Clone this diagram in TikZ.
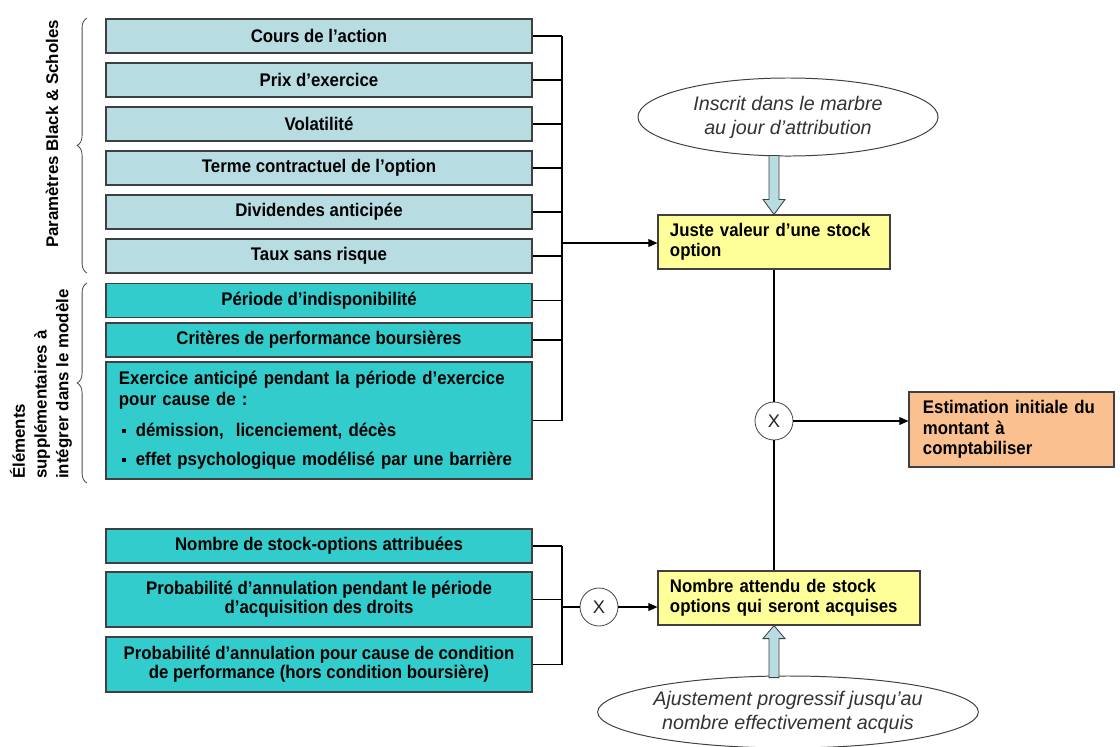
\documentclass[tikz,border=0pt]{standalone}
\usepackage{fontspec}
\setmainfont{Liberation Sans}
\newfontfamily\narrowsans[FakeStretch=0.92]{Liberation Sans}
\usetikzlibrary{arrows.meta, calc, shapes.geometric, decorations.pathreplacing}
\definecolor{bsblue}{RGB}{183,221,226}
\definecolor{suppteal}{RGB}{51,204,204}
\definecolor{jaune}{RGB}{255,255,153}
\definecolor{orangeclair}{RGB}{250,192,143}
\definecolor{bordure}{RGB}{64,64,64}
\newcommand{\bulsq}{\hspace*{2pt}\rule[0.35ex]{3pt}{3pt}\hspace{7pt}}
\tikzset{
    pbox/.style = {rectangle, draw=bordure, line width=1pt, fill=bsblue, minimum width=10.65cm, minimum height=0.85cm, inner sep=0pt, align=center, font=\narrowsans\bfseries\fontsize{13}{13.5}\selectfont},
    sbox/.style = {pbox, fill=suppteal},
    ybox/.style = {rectangle, draw=bordure, line width=0.8pt, fill=jaune, minimum height=1.35cm, inner xsep=0.3cm, inner ysep=0pt, align=left, font=\narrowsans\bfseries\fontsize{13}{14.5}\selectfont},
    mult/.style = {circle, draw=gray!60!black, line width=0.6pt, fill=white, minimum size=0.95cm, inner sep=0pt, font=\fontsize{13}{13}\selectfont, text=gray!30!black},
    ell/.style = {ellipse, draw=gray!50!black, line width=0.7pt, fill=white, inner sep=0pt, align=center, font=\itshape\fontsize{14}{17}\selectfont, text=black!80},
    blk/.style = {draw=bordure, line width=0.6pt, fill=bsblue},
    brc/.style = {decorate, decoration={brace, amplitude=7pt}, draw=gray!60!black, line width=0.6pt},
    conn/.style = {line width=0.8pt},
    arr/.style = {-{Triangle[length=6.4pt, width=5.6pt]}, line width=0.8pt}
}

\begin{document}
\begin{tikzpicture}[x=0.025cm, y=-0.025cm]
\useasboundingbox (0,0) rectangle (1120,746);

% Parametres Black & Scholes
\node[pbox] (cours) at (319,36) {Cours de l’action};
\node[pbox] (prix) at (319,80) {Prix d’exercice};
\node[pbox] (vol) at (319,124) {Volatilité};
\node[pbox] (terme) at (319,168) {Terme contractuel de l’option};
\node[pbox] (div) at (319,212) {Dividendes anticipée};
\node[pbox] (taux) at (319,256) {Taux sans risque};

% Elements supplementaires
\node[sbox] (indisp) at (319,300.5) {Période d’indisponibilité};
\node[sbox] (crit) at (319,340) {Critères de performance boursières};
\node[sbox, minimum height=2.925cm, align=left, text width=10cm, font=\narrowsans\bfseries\fontsize{13}{14.8}\selectfont] (exer) at (319,420.5) {Exercice anticipé pendant la période d’exercice\\pour cause de :\\[7pt]\bulsq démission,\ \ licenciement, décès\\[6pt]\bulsq effet psychologique modélisé par une barrière};

% Nombre d'options
\node[sbox] (nombre) at (319,546) {Nombre de stock-options attribuées};
\node[sbox, minimum height=1.375cm] (proba) at (319,599.5) {Probabilité d’annulation pendant le période\\d’acquisition des droits};
\node[sbox, minimum height=1.375cm] (probb) at (319,664.5) {Probabilité d’annulation pour cause de condition\\de performance (hors condition boursière)};

% Braces
\draw[brc] (87,273) -- (87,18);
\draw[brc] (87,483) -- (87,283);
\node[rotate=90, font=\bfseries\fontsize{12}{14}\selectfont] (lblbs) at (52,134) {Paramètres Black \& Scholes};
\node[rotate=90, align=left, font=\bfseries\fontsize{12}{15.5}\selectfont] (lblsupp) at (41,384) {Éléments\\supplémentaires à\\intégrer dans le modèle};

% Right side
\node[ell, minimum width=7.5cm, minimum height=1.95cm] (ellA) at (788,117) {Inscrit dans le marbre\\au jour d’attribution};
\node[ybox, text width=5.2cm] (jv) at (774,242) {Juste valeur d’une stock\\option};
\node[mult] (multA) at (774,421) {X};
\node[ybox, fill=orangeclair, minimum height=1.875cm, inner xsep=0.35cm, text width=4.425cm] (est) at (1011.5,429.5) {Estimation initiale du\\montant à\\comptabiliser};
\node[ybox, text width=5.95cm] (na) at (789,598) {Nombre attendu de stock\\options qui seront acquises};
\node[mult] (multB) at (599,607) {X};
\node[ell, minimum width=9.5cm, minimum height=1.8cm] (ellB) at (788,712) {Ajustement progressif jusqu’au\\nombre effectivement acquis};

% Bus to Juste valeur
\coordinate (bus1) at (562,0);
\foreach \b in {cours,prix,vol,terme,div,taux,indisp,crit,exer}
    \draw[conn] (\b.east) -- (\b.east -| bus1);
\draw[conn] (cours.east -| bus1) -- (exer.east -| bus1);
\draw[arr] (bus1 |- 0,243) -- (jv.west |- 0,243);

% Bus to Nombre attendu
\foreach \b in {nombre,proba,probb}
    \draw[conn] (\b.east) -- (\b.east -| bus1);
\draw[conn] (nombre.east -| bus1) -- (probb.east -| bus1);
\draw[conn] (bus1 |- multB) -- (multB);
\draw[arr] (multB) -- (multB -| na.west);

% Product
\draw[conn] (jv.south) -- (multA);
\draw[conn] (multA) -- (multA |- na.north);
\draw[arr] (multA) -- (multA -| est.west);

% Block arrows
\draw[blk] (jv.north) -- ++(-11,-15) -- ++(6,0) -- ++(0,-44) -- ++(10,0) -- ++(0,44) -- ++(6,0) -- cycle;
\draw[blk] (multA |- na.south) -- ++(11,13) -- ++(-6,0) -- ++(0,39) -- ++(-10,0) -- ++(0,-39) -- ++(-6,0) -- cycle;
\end{tikzpicture}
\end{document}
